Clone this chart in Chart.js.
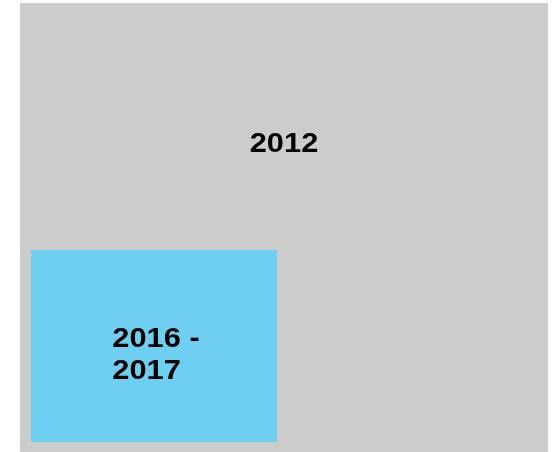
<!DOCTYPE html>
<html>
<head>
<meta charset="utf-8">
<script src="https://cdn.jsdelivr.net/npm/chart.js@4/dist/chart.umd.min.js"></script>
<style>
  html, body { margin: 0; padding: 0; background: #fff; }
  #wrap { position: relative; width: 558px; height: 452px; }
</style>
</head>
<body>
<div id="wrap"><canvas id="areaChart"></canvas></div>
<script>
// proportional-area blocks, values in chart units
const categories = ['2012', '2016 - 2017'];
const labelLines = [['2012'], ['2016 -', '2017']];
const xStart = [20, 31];
const xEnd = [548, 277];
const yStart = [0, 10];
const yEnd = [449, 202];
const labelX = [284, 156];
const labelY = [308, 97];
const colors = ['#cccccc', '#6ecff2'];

const datasets = categories.map((c, i) => ({
  label: c,
  data: [{ x: xStart[i], y: yEnd[i] }, { x: xEnd[i], y: yEnd[i] }],
  fill: { value: yStart[i] },
  backgroundColor: colors[i],
  borderWidth: 0,
  pointRadius: 0,
  tension: 0,
  order: categories.length - i  // bigger block underneath
}));

const labelPlugin = {
  id: 'blockLabels',
  afterDatasetsDraw(chart) {
    const ctx = chart.ctx;
    const xs = chart.scales.x, ys = chart.scales.y;
    ctx.save();
    ctx.fillStyle = '#000';
    ctx.font = 'bold 28px "Liberation Sans", Arial, sans-serif';
    ctx.textBaseline = 'middle';
    categories.forEach((c, i) => {
      const lines = labelLines[i];
      const cx = xs.getPixelForValue(labelX[i]);
      const cy = ys.getPixelForValue(labelY[i]);
      const sx = 1.1;
      const w = Math.max(...lines.map(l => ctx.measureText(l).width)) * sx;
      const lh = 32;
      lines.forEach((l, k) => {
        ctx.save();
        ctx.translate(cx - w / 2, cy + (k - (lines.length - 1) / 2) * lh);
        ctx.scale(sx, 1);
        ctx.textAlign = 'left';
        ctx.fillText(l, 0, 0);
        ctx.restore();
      });
    });
    ctx.restore();
  }
};

new Chart(document.getElementById('areaChart'), {
  type: 'line',
  data: { datasets },
  options: {
    responsive: true,
    maintainAspectRatio: false,
    animation: false,
    layout: { padding: 0 },
    scales: {
      x: { type: 'linear', min: 0, max: 558, display: false },
      y: { type: 'linear', min: 0, max: 452, display: false }
    },
    plugins: { legend: { display: false }, tooltip: { enabled: false } }
  },
  plugins: [labelPlugin]
});
</script>
</body>
</html>
